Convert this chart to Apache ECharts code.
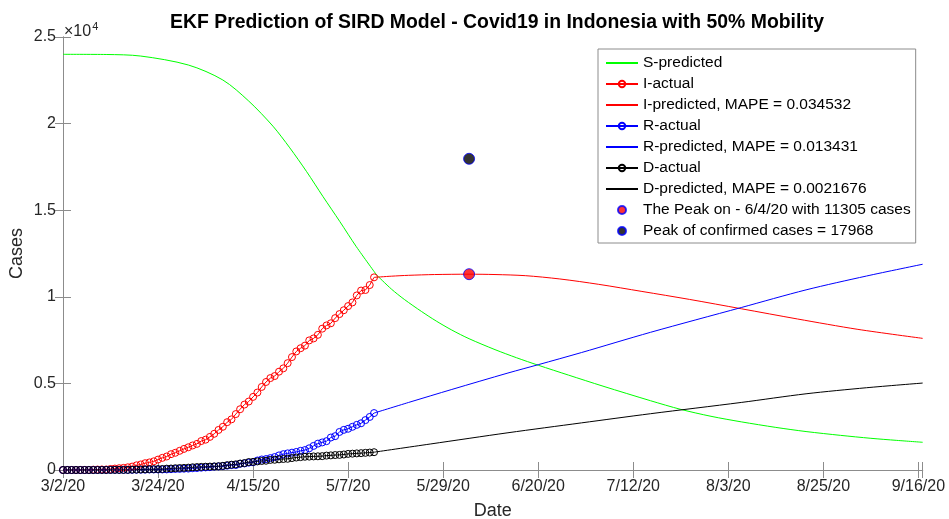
<!DOCTYPE html>
<html><head><meta charset="utf-8">
<script src="https://cdn.jsdelivr.net/npm/echarts@6/dist/echarts.min.js"></script>
<style>html,body{margin:0;padding:0;background:#fff}#c{width:949px;height:519px}</style>
</head><body><div id="c"></div>
<script>
// ---- Data ----
const xTickLabels = ['3/2/20','3/24/20','4/15/20','5/7/20','5/29/20','6/20/20','7/12/20','8/3/20','8/25/20','9/16/20'];
const yTickLabels = ['0','0.5','1','1.5','2','2.5'];

// actual data, one value per day starting 3/2/20 (day 0) to 5/13/20 (day 72)
const iActual = [2,2,2,2,4,4,6,19,27,31,30,60,83,104,121,156,197,269,321,392,437,500,601,701,780,913,994,1107,1217,1311,
  1417,1508,1671,1751,1911,2090,2313,2494,2761,2924,3229,3509,3778,3954,4221,4472,4796,5082,5307,5423,5677,5870,6168,6520,6845,7032,7180,7484,7596,7804,
  8160,8347,8471,8769,9002,9226,9465,9675,10079,10361,10393,10679,11123];
const rActual = [0,0,0,0,0,0,0,0,0,2,3,5,8,8,8,9,11,15,16,20,29,30,30,31,35,46,59,64,75,81,
  103,112,134,150,164,192,204,222,252,282,286,359,380,426,446,548,607,631,686,747,842,913,960,1002,1042,1107,1151,1254,1391,1522,
  1591,1665,1876,1954,2197,2317,2381,2494,2607,2698,2881,3063,3287];
const dActual = [0,0,0,0,0,0,0,0,0,1,1,4,5,5,5,7,19,25,32,38,48,49,55,58,78,87,102,114,122,136,
  157,170,181,191,198,209,221,240,280,306,327,373,399,459,469,496,520,535,582,590,616,635,647,689,720,743,765,773,784,792,
  800,831,845,864,872,895,930,943,959,973,991,1007,1028];

// predicted curves (day, value)
const sPredDays1 = [0,10,18,29,37,43,48.6,52.5,56.4,60.2,64.1,67.9,72.6];
const sPredVals1 = [24000,23990,23900,23384,22518,21300,19850,18600,17224,15780,14337,12893,11259];
const sPredDays2 = [72.6,76,79,83,86.4,90,94,100,105,110,117,125,136,143,150,157,165,172,180,187,193,199];
const sPredVals2 = [11259,10450,9850,9150,8600,8080,7580,6950,6480,6050,5480,4840,4000,3500,3100,2780,2460,2220,2000,1830,1710,1600];
const iPredDays = [72,76,80,86,94,100,107,115,124,134,145,157,170,184,199];
const iPredVals = [11123,11190,11240,11285,11305,11285,11220,11030,10720,10310,9850,9310,8720,8120,7600];
const rPredDays = [72,80,90,103,110,120,136,157,172,186,199];
const rPredVals = [3287,3900,4650,5600,6080,6780,7950,9380,10400,11200,11880];
const dPredDays = [72,85,103,120,136,157,172,186,199];
const dPredVals = [1028,1500,2150,2720,3250,3900,4400,4750,5020];

const peakDay = 94, peakI = 11305, peakConfirmed = 17968;

const names = ['S-predicted','I-actual','I-predicted, MAPE = 0.034532','R-actual','R-predicted, MAPE = 0.013431',
  'D-actual','D-predicted, MAPE = 0.0021676','The Peak on - 6/4/20 with 11305 cases','Peak of confirmed cases = 17968'];

// ---- Chart ----
const FONT = '"Liberation Sans", Arial, Helvetica, sans-serif';
const AX = '#8c8c8c', TXT = '#262626';
const pairs = (d, v) => d.map((x, i) => [x, v[i]]);
const idxPairs = v => v.map((y, i) => [i, y]);

const chart = echarts.init(document.getElementById('c'), null, {renderer: 'canvas'});

const xCommon = {type:'value', min:0, max:199, interval:22,
  axisLine:{show:true, lineStyle:{color:AX, width:1}},
  axisTick:{show:true, inside:true, length:8, lineStyle:{color:AX}},
  splitLine:{show:false}};
const yCommon = {type:'value', min:0, max:25000, interval:5000,
  axisLine:{show:true, lineStyle:{color:AX, width:1}},
  axisTick:{show:true, inside:true, length:8, lineStyle:{color:AX}},
  splitLine:{show:false}};

function lineSeries(name, data, color, withMarker, smooth) {
  const s = {name, type:'line', data, color, xAxisIndex:0, yAxisIndex:0,
    lineStyle:{color, width:1}, smooth: smooth || false, silent:true, z:2,
    emphasis:{disabled:true}};
  if (withMarker) {
    s.symbol = 'circle'; s.symbolSize = 7; s.showSymbol = true; s.showAllSymbol = true;
    s.itemStyle = {color:'rgba(255,255,255,0)', borderColor:color, borderWidth:1};
  } else {
    s.symbol = 'none'; s.showSymbol = false;
  }
  return s;
}

const noDot = {opacity:0};
const option = {
  animation:false,
  backgroundColor:'#fff',
  title:{text:'EKF Prediction of SIRD Model - Covid19 in Indonesia with 50% Mobility',
    left:492, top:8, textAlign:'center',
    textStyle:{fontFamily:FONT, fontSize:19.4, fontWeight:'bold', color:'#000'}},
  grid:{left:63, top:37, right:26.3, bottom:49, containLabel:false, outerBoundsMode:'none'},
  xAxis:[
    Object.assign({}, xCommon, {position:'bottom',
      name:'Date', nameLocation:'middle', nameGap:32, nameMoveOverlap:false,
      nameTextStyle:{fontFamily:FONT, fontSize:18, color:TXT},
      axisLabel:{show:true, margin:9, fontFamily:FONT, fontSize:16, color:TXT,
        formatter: v => { const k = v/22; return Number.isInteger(k) && xTickLabels[k] ? xTickLabels[k] : ''; }}}),
    Object.assign({}, xCommon, {position:'top', axisLabel:{show:false}})
  ],
  yAxis:[
    Object.assign({}, yCommon, {position:'left',
      name:'Cases', nameLocation:'middle', nameGap:37, nameMoveOverlap:false,
      nameTextStyle:{fontFamily:FONT, fontSize:18, color:TXT},
      axisLabel:{show:true, margin:7, fontFamily:FONT, fontSize:16, color:TXT,
        formatter: v => yTickLabels[Math.round(v/5000)] ?? ''}}),
    Object.assign({}, yCommon, {position:'right', axisLabel:{show:false}})
  ],
  legend:{orient:'vertical', left:598, top:49, padding:[6,5,4,7],
    itemWidth:32, itemHeight:8, itemGap:5,
    backgroundColor:'#fff', borderColor:'#8c8c8c', borderWidth:1, borderRadius:0,
    textStyle:{fontFamily:FONT, fontSize:15.5, color:'#000'},
    selectedMode:false, z:10,
    data:[
      {name:names[0], itemStyle:noDot},
      {name:names[1]},
      {name:names[2], itemStyle:noDot},
      {name:names[3]},
      {name:names[4], itemStyle:noDot},
      {name:names[5]},
      {name:names[6], itemStyle:noDot},
      {name:names[7]},
      {name:names[8]}
    ]},
  graphic:[{type:'text', left:64, top:21, z:10,
    style:{text:'×10{s|4}', font:'16px ' + FONT, fill:TXT,
      rich:{s:{fontSize:11, fontFamily:FONT, fill:TXT, verticalAlign:'top', padding:[0,0,10,1]}}}}],
  series:[
    lineSeries(names[0], pairs(sPredDays1, sPredVals1), '#00ff00', false, 0.3),
    lineSeries(names[0], pairs(sPredDays2, sPredVals2), '#00ff00', false, 0.3),
    lineSeries(names[1], idxPairs(iActual), '#ff0000', true),
    lineSeries(names[2], pairs(iPredDays, iPredVals), '#ff0000', false, 0.3),
    lineSeries(names[3], idxPairs(rActual), '#0000ff', true),
    lineSeries(names[4], pairs(rPredDays, rPredVals), '#0000ff', false, 0.3),
    lineSeries(names[5], idxPairs(dActual), '#000000', true),
    lineSeries(names[6], pairs(dPredDays, dPredVals), '#000000', false, 0.3),
    {name:names[7], type:'scatter', data:[[peakDay, peakI]], symbol:'circle', symbolSize:11, z:4,
      itemStyle:{color:'#ff0000', borderColor:'#0000ff', borderWidth:1}, silent:true},
    {name:names[8], type:'scatter', data:[[peakDay, peakConfirmed]], symbol:'circle', symbolSize:11, z:4,
      itemStyle:{color:'#000000', borderColor:'#0000ff', borderWidth:1}, silent:true}
  ]
};
chart.setOption(option);
</script></body></html>
